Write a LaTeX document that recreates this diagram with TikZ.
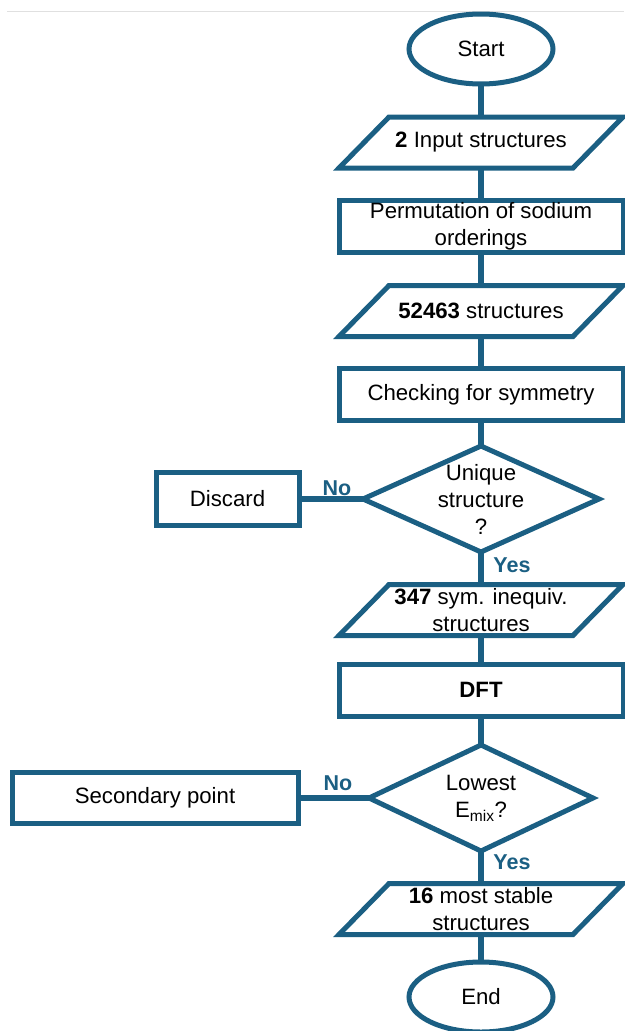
\documentclass[tikz,border=0pt]{standalone}
\usepackage{fontspec}
\setmainfont{Liberation Sans}
\usetikzlibrary{shapes.geometric}
\definecolor{flow}{HTML}{1B5F83}
\begin{document}
\begin{tikzpicture}[x=1pt,y=-1pt,
  every node/.style={font=\fontsize{22.2}{27}\selectfont, text=black, inner sep=0pt, outer sep=0pt},
  shapeline/.style={draw=flow, line width=5pt},
  term/.style={ellipse, shapeline, minimum width=144pt, minimum height=70pt},
  procbox/.style={rectangle, shapeline, minimum width=284pt, minimum height=52pt, align=center},
  iobox/.style={rectangle, minimum width=284pt, minimum height=51pt, align=center},
  decision/.style={diamond, shapeline, minimum width=236pt, minimum height=106pt},
  conn/.style={draw=flow, line width=5.5pt},
  lbl/.style={text=flow, font=\fontsize{21.5}{27}\selectfont\bfseries}
]
\useasboundingbox (0,0) rectangle (624,1031);
\draw[black!12, line width=1pt] (7,11) -- (624,11);

\node[term] (start) at (481,49) {Start};
\node[iobox] (p1) at (481,142.5) {\textbf{2} Input structures};
\node[procbox] (r1) at (481,226) {Permutation of sodium\\orderings};
\node[iobox] (p2) at (481,311) {\textbf{52463} structures};
\node[procbox] (r2) at (481,394.5) {Checking for symmetry};
\node[decision] (d1) at (481,499) {};
\node[align=center] (d1t) at (d1) {Unique\\structure\\?};
\node[procbox, minimum width=143pt, minimum height=53pt] (discard) at (227.5,499) {Discard};
\node[iobox] (p3) at (481,610) {\textbf{347} sym. inequiv.\\structures};
\node[procbox] (r3) at (481,690) {\textbf{DFT}};
\node[decision, minimum width=224pt] (d2) at (481,798) {};
\node[align=center] (d2t) at (d2) {Lowest\\E\textsubscript{mix}?};
\node[procbox, minimum width=286pt, minimum height=51pt] (sec) at (155,798) {Secondary point};
\node[iobox] (p4) at (481,909) {\textbf{16} most stable\\structures};
\node[term] (end) at (481,997) {End};

\foreach \n in {p1,p2,p3,p4}{
  \draw[shapeline, line join=miter] ([xshift=50pt]\n.north west) -- (\n.north east)
    -- ([xshift=-50pt]\n.south east) -- (\n.south west) -- cycle;
}

\draw[conn] (start) -- (p1);
\draw[conn] (p1) -- (r1);
\draw[conn] (r1) -- (p2);
\draw[conn] (p2) -- (r2);
\draw[conn] (r2) -- (d1);
\draw[conn] (d1) -- (discard);
\draw[conn] (d1) -- (p3);
\draw[conn] (p3) -- (r3);
\draw[conn] (r3) -- (d2);
\draw[conn] (d2) -- (sec);
\draw[conn] (d2) -- (p4);
\draw[conn] (p4) -- (end);

\node[lbl] (no1) at (337,488) {No};
\node[lbl] (yes1) at (512,565) {Yes};
\node[lbl] (no2) at (338,783) {No};
\node[lbl] (yes2) at (512,862) {Yes};
\end{tikzpicture}
\end{document}
